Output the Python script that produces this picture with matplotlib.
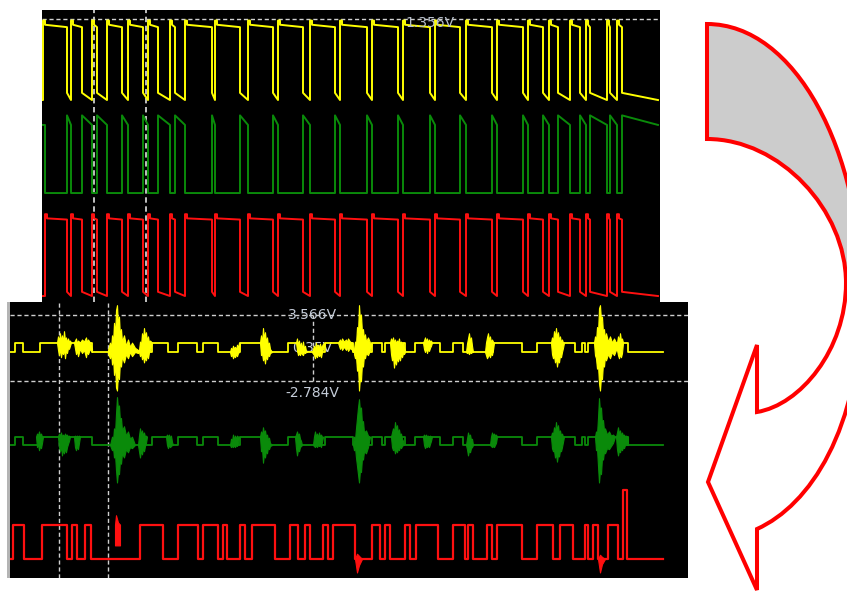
import matplotlib
matplotlib.use("Agg")
import matplotlib.pyplot as plt
from matplotlib.path import Path
from matplotlib.patches import PathPatch

W, H, DPI = 847, 593, 100

# ---------------- top capture (square waves) ----------------
top_start, top_first_rise, top_last_fall, top_end = 42, 43, 622, 658
top_dips = [(67, 71), (82, 92), (97, 107), (122, 128), (143, 148), (158, 170), (175, 185),
            (212, 215), (240, 248), (273, 278), (303, 310), (335, 340), (367, 372), (398, 403),
            (430, 435), (460, 466), (492, 497), (523, 528), (543, 549), (558, 570), (580, 586),
            (590, 607), (610, 617)]
top_yellow_lv = dict(lo=0.0, lo_start=0.12, hi=1.26, hi_end=1.22, peak=1.33)
top_green_lv = dict(lo=0.0, hi=1.30, hi_end=1.14)
top_red_lv = dict(lo=0.0, lo_start=0.07, hi=1.30, hi_end=1.28, peak=1.37)
top_offsets = [0.0, -1.557, -3.281]
top_cursor_v = 1.356
top_cursor_t = [94, 146]
top_label = "1.356V"

# ---------------- bottom capture ----------------
bot_start, bot_end = 10, 663
bot_step_t = [10, 15, 23, 40, 92, 152, 168, 178, 197, 203, 218, 240, 262, 288, 298, 325, 353,
              372, 382, 385, 405, 415, 440, 453, 463, 493, 522, 537, 575, 582, 585, 588, 628, 663]
bot_step_state = [0, 1, 0, 1, 0, 1, 0, 1, 0, 1, 0, 1, 0, 1, 0, 1, 0,
                  1, 0, 1, 0, 1, 0, 1, 0, 1, 0, 1, 0, 1, 0, 1, 0, 0]
bot_yellow_hi = 0.9
bot_green_hi = 0.8
bot_offsets = [0.0, -8.93, -19.87]

bot_yellow_bursts = [
    ([57, 58, 59, 60, 61, 62, 63, 64, 65, 66, 67, 68, 69, 70, 71],
     [0.9, 1.5, 0.9, 1.8, 1.0, 1.6, 0.9, 2.0, 1.1, 1.4, 0.9, 1.3, 1.0, 1.1, 0.9],
     [0.9, 0.2, -0.3, 0.4, -0.5, 0.1, -0.2, 0.3, -0.6, 0.2, -0.1, 0.4, 0.3, 0.6, 0.9]),
    ([74, 76, 77, 78, 80, 82, 84, 86, 87, 88, 90, 92],
     [0.9, 1.3, 0.8, 1.1, 0.9, 1.2, 1.0, 1.4, 0.9, 1.2, 0.9, 0.3],
     [0.9, -0.2, 0.2, -0.4, 0.3, -0.1, 0.2, -0.5, 0.1, -0.2, 0.3, 0.0]),
    ([108, 110, 111, 112, 113, 114, 115, 116, 117, 118, 119, 120, 121, 122, 124, 126, 128, 130, 132, 135, 138],
     [0.2, 0.9, 0.3, 1.6, 0.8, 2.8, 1.5, 4.0, 4.5, 2.5, 3.4, 1.4, 2.2, 1.0, 1.6, 0.6, 1.2, 0.5, 0.9, 0.4, 0.2],
     [-0.1, -0.6, 0.0, -1.2, -0.4, -2.2, -1.0, -3.4, -3.7, -1.8, -2.6, -0.8, -1.4, -0.4, -1.0, -0.2, -0.6, 0.0, -0.4, 0.0, -0.1]),
    ([139, 140, 141, 142, 143, 144, 145, 146, 147, 148, 149, 150, 152],
     [0.2, 1.0, 0.6, 1.8, 1.2, 2.3, 1.4, 1.9, 1.0, 1.5, 0.9, 1.1, 0.9],
     [0.0, -0.4, -0.1, -0.7, -0.3, -1.0, -0.5, -0.8, -0.2, -0.6, 0.0, 0.2, 0.9]),
    ([230, 231, 232, 233, 234, 235, 236, 237, 238, 239, 240],
     [0.0, 0.4, 0.2, 0.6, 0.3, 0.5, 0.2, 0.7, 0.4, 0.9, 0.9],
     [0.0, -0.4, -0.2, -0.6, -0.3, -0.5, -0.2, -0.4, -0.1, 0.0, 0.9]),
    ([260, 261, 262, 263, 264, 265, 266, 267, 268, 269, 270, 272],
     [0.9, 1.6, 0.8, 2.3, 1.2, 1.9, 0.9, 1.4, 0.6, 0.9, 0.3, 0.0],
     [0.9, -0.3, -0.1, -0.8, -0.4, -1.1, -0.3, -0.7, -0.2, -0.4, -0.1, 0.0]),
    ([296, 297, 298, 299, 300, 301, 302, 303, 304, 305, 306, 307],
     [0.9, 1.3, 0.6, 1.1, 0.4, 0.9, 0.2, 1.0, 0.3, 0.6, 0.1, 0.0],
     [0.9, 0.2, -0.3, -0.1, -0.3, 0.0, -0.2, -0.3, 0.0, -0.1, 0.0, 0.0]),
    ([312, 314, 315, 316, 317, 318, 319, 320, 321, 322, 323, 325],
     [0.0, 0.6, 0.2, 0.9, 0.3, 0.7, 0.2, 0.8, 0.4, 0.6, 0.8, 0.9],
     [0.0, -0.3, -0.6, -0.2, -0.5, -0.1, -0.4, -0.2, -0.5, 0.0, 0.3, 0.9]),
    ([338, 340, 341, 342, 344, 346, 347, 348, 350, 352, 353],
     [0.9, 1.2, 0.9, 1.3, 1.0, 1.2, 0.9, 1.3, 1.0, 0.9, 0.2],
     [0.9, 0.3, 0.6, 0.2, 0.5, 0.2, 0.5, 0.1, 0.4, 0.2, 0.0]),
    ([354, 355, 356, 357, 358, 359, 360, 361, 362, 363, 364, 365, 366, 368, 370, 372],
     [0.3, 1.0, 0.7, 2.4, 1.8, 4.5, 3.0, 3.6, 1.8, 2.2, 1.2, 1.7, 1.0, 1.4, 0.9, 0.9],
     [-0.2, -0.6, -0.4, -1.8, -1.2, -3.7, -2.4, -2.8, -1.0, -1.4, -0.3, -0.6, -0.1, -0.3, 0.2, 0.9]),
    ([390, 391, 392, 393, 394, 395, 396, 397, 398, 399, 400, 401, 402, 403, 404, 405],
     [0.9, 1.3, 1.0, 1.4, 0.9, 1.2, 0.8, 1.1, 0.9, 1.3, 0.7, 1.0, 0.6, 0.9, 0.4, 0.2],
     [0.9, -0.2, -0.8, -0.4, -1.5, -0.7, -1.2, -0.5, -0.9, -0.3, -0.8, -0.2, -0.5, -0.1, -0.2, 0.0]),
    ([423, 424, 425, 426, 427, 428, 429, 430, 431, 432],
     [0.9, 1.1, 1.4, 1.0, 1.3, 0.9, 1.2, 1.0, 1.1, 0.9],
     [0.9, 0.3, 0.0, 0.4, -0.1, 0.3, 0.1, 0.4, 0.6, 0.9]),
    ([466, 467, 468, 469, 470, 471, 472, 473],
     [0.0, 0.8, 1.3, 1.8, 1.0, 1.4, 0.6, 0.0],
     [0.0, -0.1, 0.0, -0.2, 0.0, -0.1, 0.0, 0.0]),
    ([485, 486, 487, 488, 489, 490, 491, 492, 493, 494],
     [0.0, 0.9, 1.4, 1.8, 1.1, 1.5, 0.9, 1.2, 1.0, 0.9],
     [0.0, -0.3, -0.6, -0.4, -0.2, -0.5, -0.1, -0.3, 0.2, 0.9]),
    ([551, 552, 553, 554, 555, 556, 557, 558, 559, 560, 561, 562, 563, 564],
     [0.9, 1.4, 1.0, 2.0, 1.4, 2.3, 1.3, 1.9, 1.1, 1.5, 0.9, 1.2, 0.9, 0.9],
     [0.9, -0.2, -0.6, -0.3, -1.0, -0.5, -1.4, -0.7, -1.0, -0.3, -0.5, 0.0, 0.4, 0.9]),
    ([594, 595, 596, 597, 598, 599, 600, 601, 602, 603, 604, 605, 606, 608, 610, 612, 614, 616],
     [0.9, 1.5, 1.0, 2.4, 1.8, 4.2, 4.5, 3.0, 3.4, 1.8, 2.2, 1.2, 1.8, 1.0, 1.5, 0.9, 1.3, 0.9],
     [0.9, -0.3, -0.6, -1.6, -1.2, -3.0, -3.7, -2.4, -2.6, -1.0, -1.4, -0.4, -0.8, -0.2, -0.6, 0.0, -0.3, 0.2]),
    ([617, 618, 619, 620, 621, 622, 623],
     [0.9, 1.5, 1.0, 1.8, 1.1, 1.3, 0.9],
     [0.2, -0.3, -0.6, -0.2, -0.5, -0.1, 0.9]),
]

bot_green_bursts = [
    ([36, 37, 38, 39, 40, 41, 42, 43], [0.8, 1.1, 0.9, 1.3, 0.9, 1.1, 0.8, 0.8],
     [0.8, -0.2, 0.1, -0.5, -0.1, -0.3, 0.2, 0.8]),
    ([58, 59, 60, 61, 62, 63, 64, 65, 66, 67, 68, 69, 70],
     [0.8, 1.1, 0.9, 1.2, 0.8, 1.0, 0.8, 1.1, 0.9, 1.0, 0.8, 0.9, 0.8],
     [0.8, -0.2, -0.6, -0.1, -1.0, -0.4, -0.8, -0.3, -0.7, -0.2, 0.1, 0.4, 0.8]),
    ([74, 75, 76, 77, 78, 79, 80], [0.8, 0.9, 0.8, 0.9, 0.8, 0.9, 0.8],
     [0.8, -0.2, -0.5, -0.1, -0.4, 0.2, 0.8]),
    ([110, 112, 113, 114, 115, 116, 117, 118, 119, 120, 121, 122, 124, 126, 128, 130, 132, 135],
     [0.0, 0.8, 0.4, 1.6, 1.0, 3.0, 4.6, 3.4, 3.8, 2.2, 2.6, 1.4, 1.8, 0.9, 1.3, 0.6, 0.8, 0.0],
     [0.0, -0.5, -0.2, -1.2, -0.8, -2.4, -3.6, -2.6, -2.8, -1.4, -1.8, -0.8, -1.2, -0.4, -0.7, -0.2, -0.3, 0.0]),
    ([138, 139, 140, 141, 142, 143, 144, 145, 146, 147],
     [0.0, 0.9, 1.6, 1.0, 1.4, 0.9, 1.2, 0.8, 0.9, 0.8],
     [0.0, -0.6, -1.2, -0.5, -0.9, -0.3, -0.6, -0.1, 0.2, 0.8]),
    ([166, 167, 168, 169, 170, 171, 172, 173], [0.8, 1.0, 0.8, 1.0, 0.7, 0.9, 0.3, 0.0],
     [0.8, 0.0, -0.3, 0.0, -0.2, -0.1, 0.0, 0.0]),
    ([230, 231, 232, 233, 234, 235, 236, 237, 238, 239],
     [0.0, 0.6, 0.4, 1.0, 0.5, 0.9, 0.6, 0.9, 0.8, 0.8],
     [0.0, -0.2, -0.1, -0.2, 0.0, -0.2, 0.0, -0.1, 0.2, 0.8]),
    ([260, 261, 262, 263, 264, 265, 266, 267, 268, 269, 270, 272],
     [0.8, 1.3, 0.9, 1.7, 1.1, 1.4, 0.8, 1.0, 0.5, 0.7, 0.2, 0.0],
     [0.8, -0.6, -0.3, -1.7, -0.8, -1.2, -0.5, -0.8, -0.2, -0.4, -0.1, 0.0]),
    ([295, 296, 297, 298, 299, 300, 301, 302], [0.8, 1.0, 1.3, 0.9, 1.1, 0.6, 0.4, 0.0],
     [0.8, -0.3, -1.0, -0.4, -0.6, -0.2, -0.1, 0.0]),
    ([313, 314, 315, 316, 317, 318, 319, 320, 321, 322, 323],
     [0.0, 0.8, 1.3, 0.8, 1.1, 0.7, 1.2, 0.8, 1.0, 0.8, 0.8],
     [0.0, -0.1, -0.2, 0.0, -0.2, 0.0, -0.1, 0.0, -0.2, 0.3, 0.8]),
    ([353, 354, 355, 356, 357, 358, 359, 360, 361, 362, 363, 364, 366, 368, 370],
     [0.0, 0.8, 0.5, 1.6, 2.6, 3.6, 4.4, 3.2, 3.6, 2.0, 2.3, 1.2, 1.4, 0.9, 0.8],
     [0.0, -0.5, -0.2, -1.2, -2.0, -2.8, -3.6, -2.4, -2.6, -1.2, -1.4, -0.6, -0.8, -0.2, 0.8]),
    ([391, 392, 393, 394, 395, 396, 397, 398, 399, 400, 401, 402, 403, 404],
     [0.8, 1.2, 1.6, 1.1, 2.2, 1.5, 1.9, 1.1, 1.5, 0.9, 1.1, 0.6, 0.4, 0.0],
     [0.8, -0.2, -0.5, -0.3, -0.8, -0.4, -0.7, -0.3, -0.5, -0.1, -0.3, -0.1, 0.0, 0.0]),
    ([423, 424, 425, 426, 427, 428, 429, 430, 431, 432],
     [0.8, 1.0, 0.8, 1.0, 0.8, 0.9, 0.8, 0.9, 0.8, 0.8],
     [0.8, 0.0, -0.3, -0.1, -0.2, 0.0, -0.2, 0.1, 0.4, 0.8]),
    ([466, 467, 468, 469, 470, 471, 472, 473], [0.0, 0.6, 1.2, 0.8, 1.0, 0.5, 0.6, 0.0],
     [0.0, -0.4, -1.0, -0.5, -0.7, -0.3, -0.2, 0.0]),
    ([490, 491, 492, 493, 494, 495, 496, 497], [0.0, 0.8, 1.2, 0.9, 1.1, 0.9, 1.0, 0.8],
     [0.0, -0.1, -0.2, -0.1, -0.2, 0.0, 0.2, 0.8]),
    ([551, 552, 553, 554, 555, 556, 557, 558, 559, 560, 561, 562, 563, 564],
     [0.8, 1.2, 1.0, 1.7, 1.2, 2.2, 1.4, 1.9, 1.1, 1.4, 0.9, 1.1, 0.8, 0.8],
     [0.8, -0.3, -0.6, -0.5, -1.2, -0.8, -1.6, -0.9, -1.1, -0.5, -0.6, -0.2, 0.3, 0.8]),
    ([595, 596, 597, 598, 599, 600, 601, 602, 603, 604, 605, 607, 609, 611, 613, 615],
     [0.8, 1.3, 1.0, 2.6, 4.5, 3.2, 3.6, 2.0, 2.4, 1.4, 1.6, 1.0, 1.3, 0.9, 1.0, 0.8],
     [0.8, -0.5, -0.3, -2.0, -3.6, -2.4, -2.8, -1.2, -1.4, -0.6, -0.8, -0.3, -0.4, -0.1, 0.2, 0.8]),
    ([616, 617, 618, 619, 620, 621, 622, 623, 624, 625, 626, 628],
     [0.8, 1.2, 1.7, 1.1, 1.4, 0.9, 1.2, 0.9, 1.0, 0.8, 0.9, 0.8],
     [0.8, -0.4, -1.0, -0.5, -0.7, -0.3, -0.5, -0.2, -0.3, 0.0, 0.0, 0.0]),
]

bot_red_highs = [(13, 24), (42, 67), (72, 77), (85, 91), (140, 163), (178, 198), (203, 218),
                 (223, 227), (240, 245), (252, 275), (290, 298), (305, 310), (323, 328), (333, 355),
                 (372, 380), (385, 390), (405, 410), (416, 438), (453, 465), (468, 473), (487, 492),
                 (497, 522), (537, 553), (560, 573), (585, 588), (593, 598), (608, 618), (623, 627)]
bot_red_high_v = [3.3] * 27 + [6.6]
bot_red_bursts = [
    ([115, 116, 118, 120], [3.3, 4.2, 3.5, 3.3], [1.3, 1.3, 1.3, 1.3]),
    ([355, 357, 359, 362], [0.0, 0.5, 0.3, 0.0], [0.0, -1.3, -0.6, 0.0]),
    ([598, 600, 602, 605], [0.0, 0.4, 0.2, 0.0], [0.0, -1.3, -0.5, 0.0]),
]
bot_cursor_v = [3.566, -2.784]
bot_cursor_t = [59, 108]
bot_marker_t = 313
bot_labels = [("3.566V", 3.55), ("0.35V", 0.38), ("-2.784V", -3.94)]

YELLOW, GREEN, RED = "#ffff00", "#0a8a0a", "#ff1010"
GRID = "#cfcfcf"
LABEL = "#c4ccd8"


def build_inphase(dips, start, rise0, last_fall, end, lv):
    highs = []
    r = rise0
    for a, b in dips:
        highs.append((r, a))
        r = b
    highs.append((r, last_fall))
    xs, ys = [start, rise0], [lv["lo"], lv["lo"]]
    for i, (r, f) in enumerate(highs):
        xs += [r, r + 2, r + 2, f]
        ys += [lv["peak"], lv["peak"], lv["hi"], lv["hi_end"]]
        nxt = highs[i + 1][0] if i + 1 < len(highs) else end
        xs += [f, nxt]
        ys += [lv["lo_start"], lv["lo"]]
    return xs, ys


def build_inverse(dips, start, rise0, last_fall, end, lv):
    xs, ys = [start, rise0 + 2, rise0 + 2], [lv["hi_end"], lv["hi_end"], lv["lo"]]
    for a, b in dips:
        xs += [a, a, b, b]
        ys += [lv["lo"], lv["hi"], lv["hi_end"], lv["lo"]]
    xs += [last_fall, last_fall, end]
    ys += [lv["lo"], lv["hi"], lv["hi_end"]]
    return xs, ys


def px_axes(fig, l, t, r, b):
    ax = fig.add_axes([l / W, 1 - b / H, (r - l) / W, (b - t) / H])
    ax.set_xticks([])
    ax.set_yticks([])
    for s in ax.spines.values():
        s.set_visible(False)
    return ax


fig = plt.figure(figsize=(W / DPI, H / DPI), dpi=DPI)
fig.patch.set_facecolor("white")

# ---- top panel ----
axt = px_axes(fig, 42, 10, 660, 302)
axt.set_facecolor("black")
axt.set_xlim(42, 660)
axt.set_ylim(-3.381, 1.507)
dash = (0, (3, 2))
axt.axhline(top_cursor_v, color=GRID, lw=1.0, ls=dash, zorder=2)
for t in top_cursor_t:
    axt.axvline(t, color=GRID, lw=1.3, ls=dash, zorder=2)
xs, ys = build_inphase(top_dips, top_start, top_first_rise, top_last_fall, top_end, top_yellow_lv)
axt.plot(xs, [v + top_offsets[0] for v in ys], color=YELLOW, lw=1.4, zorder=3)
xs, ys = build_inverse(top_dips, top_start, top_first_rise, top_last_fall, top_end, top_green_lv)
axt.plot(xs, [v + top_offsets[1] for v in ys], color=GREEN, lw=1.4, zorder=3)
xs, ys = build_inphase(top_dips, top_start, top_first_rise + 2, top_last_fall, top_end, top_red_lv)
axt.plot(xs, [v + top_offsets[2] for v in ys], color=RED, lw=1.4, zorder=3)
axt.text(430, 1.29, top_label, color="#b8c0cc", fontsize=10, ha="center", va="center", zorder=4)

# ---- bottom panel ----
strip = px_axes(fig, 7, 302, 10, 578)
strip.set_facecolor("#b4b4b4")
axb = px_axes(fig, 10, 302, 688, 578)
axb.set_facecolor("black")
axb.set_xlim(10, 688)
axb.set_ylim(-21.70, 4.80)
for v in bot_cursor_v:
    axb.axhline(v, color=GRID, lw=1.0, ls=dash, zorder=2)
for t in bot_cursor_t:
    axb.axvline(t, color=GRID, lw=1.0, ls=dash, zorder=2)
axb.vlines(bot_marker_t, bot_cursor_v[1], bot_cursor_v[0], color=GRID, lw=1.0, ls=dash, zorder=2)
for txt, v in bot_labels:
    axb.text(312, v, txt, color=LABEL, fontsize=10, ha="center", va="center", zorder=2.5)

for hi, off, col, bursts in [(bot_yellow_hi, bot_offsets[0], YELLOW, bot_yellow_bursts),
                             (bot_green_hi, bot_offsets[1], GREEN, bot_green_bursts)]:
    axb.step(bot_step_t, [s * hi + off for s in bot_step_state], where="post",
             color=col, lw=1.3, zorder=3)
    for bx, btop, bbot in bursts:
        axb.fill_between(bx, [v + off for v in btop], [v + off for v in bbot],
                         color=col, lw=0.8, edgecolor=col, zorder=3)

rx, ry = [bot_start], [0.0]
for (a, b), h in zip(bot_red_highs, bot_red_high_v):
    rx += [a, a, b, b]
    ry += [0.0, h, h, 0.0]
rx.append(bot_end)
ry.append(0.0)
axb.plot(rx, [v + bot_offsets[2] for v in ry], color=RED, lw=1.6, zorder=3)
for bx, btop, bbot in bot_red_bursts:
    axb.fill_between(bx, [v + bot_offsets[2] for v in btop], [v + bot_offsets[2] for v in bbot],
                     color=RED, lw=0.8, edgecolor=RED, zorder=3)

# ---- curved arrow (decoration) ----
axa = fig.add_axes([0, 0, 1, 1])
axa.set_xlim(0, W)
axa.set_ylim(H, 0)
axa.set_axis_off()
axa.patch.set_alpha(0)
back = Path([(707, 24), (795, 24), (862, 150), (862, 300), (846, 283),
             (846, 210), (780, 139), (707, 139), (707, 24)],
            [Path.MOVETO, Path.CURVE4, Path.CURVE4, Path.CURVE4, Path.LINETO,
             Path.CURVE4, Path.CURVE4, Path.CURVE4, Path.CLOSEPOLY])
axa.add_patch(PathPatch(back, facecolor="#cccccc", edgecolor="#ff0000", lw=2.9,
                        joinstyle="miter"))
front = Path([(846, 283), (846, 350), (800, 405), (757, 412), (757, 345), (708, 482),
              (757, 590), (757, 529), (810, 505), (860, 430), (862, 300)],
             [Path.MOVETO, Path.CURVE4, Path.CURVE4, Path.CURVE4, Path.LINETO, Path.LINETO,
              Path.LINETO, Path.LINETO, Path.CURVE4, Path.CURVE4, Path.CURVE4])
axa.add_patch(PathPatch(front, facecolor="none", edgecolor="#ff0000", lw=2.9,
                        joinstyle="miter"))

fig.savefig("out.png", dpi=DPI, facecolor="white")
